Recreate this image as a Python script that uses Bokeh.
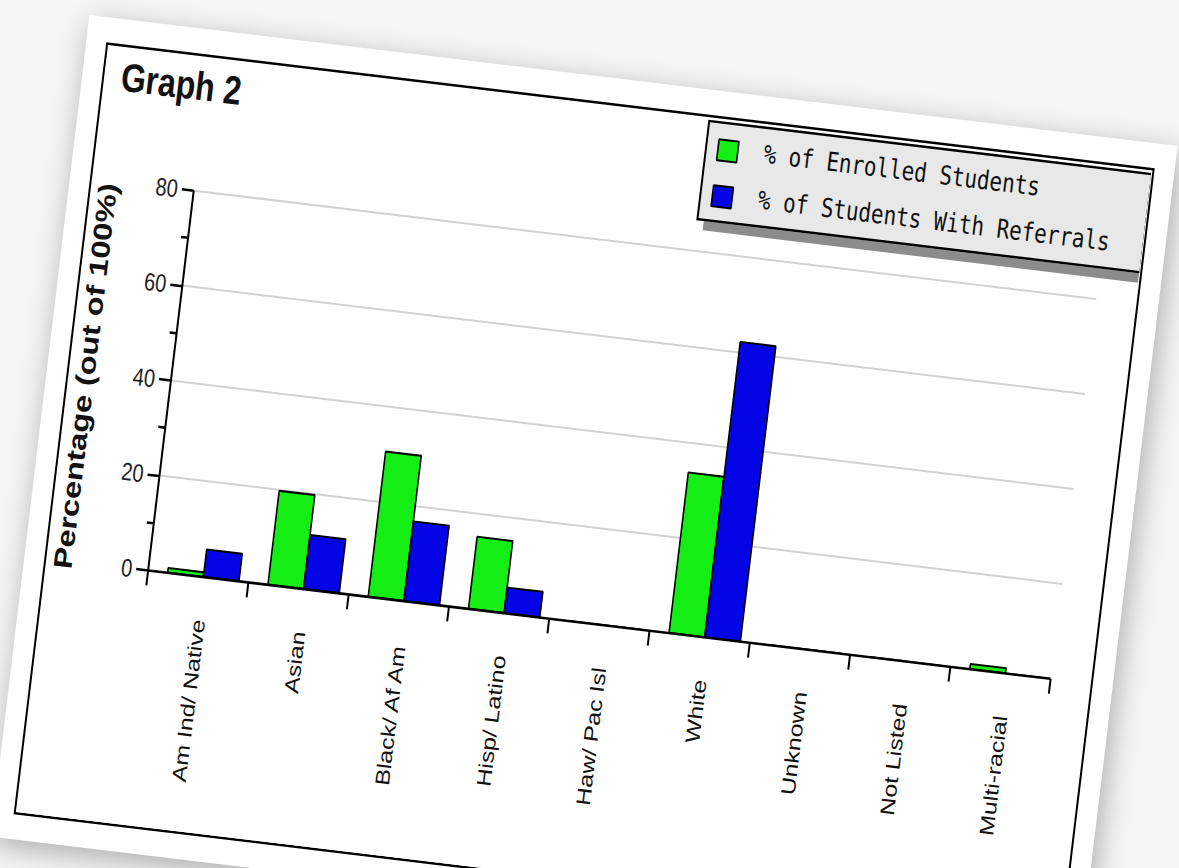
import math

from bokeh.embed import file_html
from bokeh.layouts import column
from bokeh.models import (BoxAnnotation, ColumnDataSource, Div, FixedTicker,
                          Legend, LegendItem, Range1d)
from bokeh.plotting import figure
from bokeh.resources import INLINE
from bokeh.transform import dodge

# ---- data -------------------------------------------------------------
categories = ["Am Ind/ Native", "Asian", "Black/ Af Am", "Hisp/ Latino",
              "Haw/ Pac Isl", "White", "Unknown", "Not Listed", "Multi-racial"]
enrolled = [1.0, 19.8, 30.6, 15.2, 0.0, 33.8, 0.0, 0.0, 1.1]
referrals = [5.8, 11.4, 16.8, 5.4, 0.0, 62.2, 0.0, 0.0, 0.0]
series_names = ["% of Enrolled Students", "% of Students With Referrals"]
y_ticks = [0, 20, 40, 60, 80]
y_minor_ticks = [10, 30, 50, 70]
y_max = 80
title_text = "Graph 2"
y_label = "Percentage (out of 100%)"

GREEN = "#14ee14"
BLUE = "#0404e6"

# ---- sheet geometry ---------------------------------------------------
SHEET_W, SHEET_H = 1052, 618        # chart sheet, before tilt / stretch
TILT_DEG = 6.85                      # sheet rotation on the page
STRETCH_Y = 1.25                     # vertical stretch of the sheet
OFFSET = (108, 45)                   # sheet top-left corner on the page

AXIS_LEFT = 102                      # y axis position inside the sheet
AXIS_RIGHT = 1012                    # right end of the category axis
AXIS_BOTTOM = 413                    # x axis position (from sheet top)
AXIS_TOP = 107                       # where the y axis ends (value y_max)

# Bokeh sizes the canvas from the element's on-screen bounding box, which
# includes the CSS transform; pick the plot size whose transformed box
# gives a canvas of exactly SHEET_W x SHEET_H.
c, s = math.cos(math.radians(TILT_DEG)), math.sin(math.radians(TILT_DEG))
det = STRETCH_Y * (c * c - s * s)
plot_w = round((SHEET_W * STRETCH_Y * c - SHEET_H * STRETCH_Y * s) / det)
plot_h = round((SHEET_H * c - SHEET_W * s) / det)

n = len(categories)
centers = [i + 0.55 for i in range(n)]          # label / bar-pair centres
boundaries = list(range(n + 1))                 # category separators
src = ColumnDataSource(dict(x=centers, enrolled=enrolled, referrals=referrals))
grid_src = ColumnDataSource(dict(y=y_ticks[1:], x0=[0] * 4, x1=[n] * 4))

# The plot frame fills the sheet up to its top and right edges so the
# legend (which sits above / beside the axes) is not clipped; the axes
# themselves are bounded to the data extent.
x_end = n * (SHEET_W - AXIS_LEFT) / (AXIS_RIGHT - AXIS_LEFT)
y_end = y_max * AXIS_BOTTOM / (AXIS_BOTTOM - AXIS_TOP)

p = figure(width=plot_w, height=plot_h, title=None,
           x_range=Range1d(0, x_end), y_range=Range1d(0, y_end),
           output_backend="svg", toolbar_location=None,
           min_border_left=AXIS_LEFT, min_border_right=0,
           min_border_top=0, min_border_bottom=SHEET_H - AXIS_BOTTOM,
           background_fill_color="white", border_fill_color="white")
p.outline_line_color = None
p.xgrid.visible = False
p.ygrid.visible = False

# horizontal grid lines, limited to the category span
p.segment(x0="x0", x1="x1", y0="y", y1="y", source=grid_src,
          line_color="#d2d2d2", line_width=1.6)

bar_w = 0.355
r_enr = p.vbar(x=dodge("x", -0.178, range=p.x_range), top="enrolled", width=bar_w,
               source=src, fill_color=GREEN, line_color="black", line_width=1.6)
r_ref = p.vbar(x=dodge("x", 0.178, range=p.x_range), top="referrals", width=bar_w,
               source=src, fill_color=BLUE, line_color="black", line_width=1.6)

# ---- axes -------------------------------------------------------------
xa = p.xaxis[0]
xa.bounds = (0, n)
xa.ticker = FixedTicker(ticks=centers, minor_ticks=boundaries)
xa.major_label_overrides = {c_: lab for c_, lab in zip(centers, categories)}
xa.major_label_orientation = math.pi / 2
xa.major_tick_out = 0
xa.major_tick_in = 0
xa.minor_tick_out = 12
xa.minor_tick_in = 0
xa.minor_tick_line_width = 2
xa.minor_tick_line_color = "black"
xa.axis_line_width = 2
xa.axis_line_color = "black"
xa.major_label_standoff = 22
xa.major_label_text_font = "Liberation Sans"
xa.major_label_text_font_size = "20px"
xa.major_label_text_color = "#111111"

ya = p.yaxis[0]
ya.bounds = (0, y_max)
ya.ticker = FixedTicker(ticks=y_ticks, minor_ticks=y_minor_ticks)
ya.major_tick_out = 12
ya.major_tick_in = 0
ya.minor_tick_out = 7
ya.minor_tick_in = 0
ya.major_tick_line_width = 2
ya.minor_tick_line_width = 2
ya.axis_line_width = 2
ya.axis_line_color = "black"
ya.major_label_standoff = 4
ya.major_label_text_font = "Liberation Sans"
ya.major_label_text_font_size = "20px"
ya.major_label_text_color = "#222222"

# ---- legend with drop shadow -----------------------------------------
LEG_X, LEG_Y = 503, 330              # bottom-left, relative to the frame
LEG_PAD, LEG_SPACING = 8, 13
GLYPH_W, GLYPH_H = 25, 21
LABEL_STANDOFF, LABEL_W, ITEM_H = 24, 379, 25
leg_w = 2 * LEG_PAD + GLYPH_W + LABEL_STANDOFF + LABEL_W
leg_h = 2 * LEG_PAD + 2 * ITEM_H + LEG_SPACING
SHADOW = 7

shadow = BoxAnnotation(left=LEG_X + SHADOW, right=LEG_X + leg_w + SHADOW,
                       bottom=LEG_Y - SHADOW, top=LEG_Y + leg_h - SHADOW,
                       left_units="screen", right_units="screen",
                       bottom_units="screen", top_units="screen",
                       fill_color="#404040", fill_alpha=0.6, line_color=None)
p.add_layout(shadow)

legend = Legend(
    items=[LegendItem(label=series_names[0], renderers=[r_enr]),
           LegendItem(label=series_names[1], renderers=[r_ref])],
    location=(LEG_X, LEG_Y), orientation="vertical", margin=0,
    padding=LEG_PAD, spacing=LEG_SPACING,
    glyph_width=GLYPH_W, glyph_height=GLYPH_H, label_standoff=LABEL_STANDOFF,
    label_width=LABEL_W, label_height=ITEM_H - 1,
    label_text_font="DejaVu Sans Mono", label_text_font_size="21px",
    label_text_color="#111111",
    background_fill_color="#e8e8e8", background_fill_alpha=1.0,
    border_line_color="black", border_line_width=2, border_line_alpha=1.0,
)
p.add_layout(legend, "center")

# ---- title and y-axis caption ----------------------------------------
title = Div(text=title_text, width=220, height=40, styles={
    "position": "absolute", "left": "12px", "top": "3px",
    "font-family": "Liberation Sans", "font-size": "32px",
    "font-weight": "bold", "line-height": "32px", "color": "#111111",
    "white-space": "nowrap",
})

YL_W, YL_H = 330, 32
YL_CX, YL_CY = 12, (AXIS_TOP + AXIS_BOTTOM) / 2   # caption centre in the sheet
y_caption = Div(text=y_label, width=YL_W, height=YL_H, styles={
    "position": "absolute",
    "left": f"{YL_CX - YL_W / 2}px", "top": f"{YL_CY - YL_H / 2}px",
    "transform": "rotate(-90deg)", "transform-origin": "50% 50%",
    "font-family": "Liberation Sans", "font-size": "26px",
    "font-weight": "bold", "line-height": f"{YL_H}px", "color": "#111111",
    "text-align": "center", "white-space": "nowrap",
})

# ---- tilted sheet on the page ----------------------------------------
sheet = column(p, title, y_caption, width=SHEET_W, height=SHEET_H,
               sizing_mode="fixed", styles={
                   "transform-origin": "0 0",
                   "transform": (f"translate({OFFSET[0]}px, {OFFSET[1]}px) "
                                 f"rotate({TILT_DEG}deg) scale(1, {STRETCH_Y})"),
                   "background-color": "#ffffff",
                   "outline": "2px solid #000000",
                   "box-shadow": ("0 0 0 22px #ffffff, "
                                  "4px 6px 26px 22px rgba(0,0,0,0.30)"),
               })

page = column(sheet, width=1179, height=868, sizing_mode="fixed",
              styles={"overflow": "hidden", "background-color": "#f5f5f5"})

open("out.html", "w").write(file_html(page, INLINE))
